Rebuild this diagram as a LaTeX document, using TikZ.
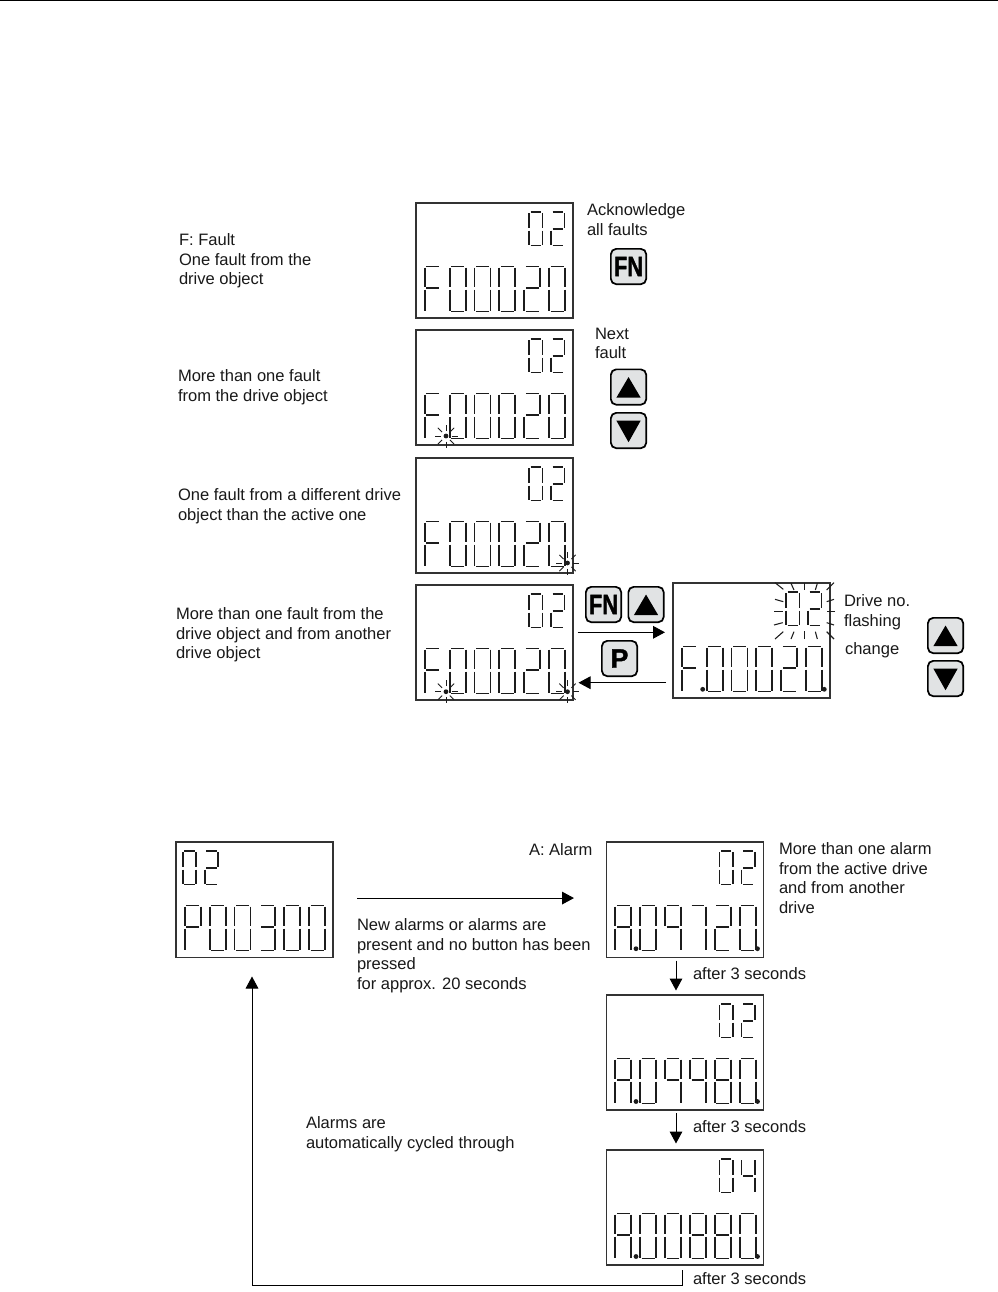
\documentclass[tikz,border=0pt]{standalone}
\usepackage{fontspec}
\setmainfont{Liberation Sans}
\usetikzlibrary{calc,arrows.meta}
\definecolor{lcdink}{HTML}{1C1C1C}
\definecolor{btnfill}{HTML}{E1E3E4}
\tikzset{
  lcdbox/.style={draw=black!80,line width=0.8pt,fill=white,minimum width=117.5pt,minimum height=86.5pt,anchor=north west,inner sep=0pt,outer sep=0pt},
  seg/.style={draw=lcdink,line width=1.45pt,line cap=butt},
  ray/.style={draw=lcdink,line width=0.65pt},
  btn/.style={draw=black,line width=1.3pt,fill=btnfill,rounded corners=4pt,minimum width=26.5pt,minimum height=26.5pt,inner sep=0pt,anchor=north west},
  lbl/.style={anchor=north west,align=left,inner sep=0pt,outer sep=0pt,font=\fontsize{12.4}{14.6}\selectfont,text=black!90},
  arr/.style={draw=black,line width=0.75pt,-{Triangle[length=9pt,width=9.5pt]}},
}
\def\sgA{\draw[seg] (1.6,0)--({\dw-1.6},0);}
\def\sgB{\draw[seg] (\dw,1)--(\dw,{\dm-1.5});}
\def\sgC{\draw[seg] (\dw,{\dm+1.5})--(\dw,{\dh-1});}
\def\sgD{\draw[seg] (1.6,\dh)--({\dw-1.6},\dh);}
\def\sgE{\draw[seg] (0,{\dm+1.5})--(0,{\dh-1});}
\def\sgF{\draw[seg] (0,1)--(0,{\dm-1.5});}
\def\sgG{\draw[seg] (1.6,\dm)--({\dw-1.6},\dm);}
\expandafter\def\csname dig0\endcsname{\sgA\sgB\sgC\sgD\sgE\sgF}
\expandafter\def\csname dig2\endcsname{\sgA\sgB\sgG\sgE\sgD}
\expandafter\def\csname dig3\endcsname{\sgA\sgB\sgG\sgC\sgD}
\expandafter\def\csname dig4\endcsname{\sgF\sgG\sgB\sgC}
\expandafter\def\csname dig7\endcsname{\sgA\sgB\sgC}
\expandafter\def\csname dig8\endcsname{\sgA\sgB\sgC\sgD\sgE\sgF\sgG}
\expandafter\def\csname dig9\endcsname{\sgA\sgB\sgC\sgF\sgG}
\expandafter\def\csname digF\endcsname{\sgA\sgF\sgE\sgG}
\expandafter\def\csname digP\endcsname{\sgA\sgB\sgF\sgE\sgG}
\expandafter\def\csname digA\endcsname{\sgA\sgB\sgC\sgE\sgF\sgG}
% \lcd{name}{x}{y}{w}{h}{small digits}{large digits}
\newcommand\lcd[7]{%
  \node[lcdbox,minimum width={#4*0.75pt},minimum height={#5*0.75pt}] (#1) at (#2,#3) {};
  \begin{scope}[shift={(#2,#3)}]
    \def\dw{13.5}\def\dh{33.5}\def\dm{17}
    \foreach \c [count=\i from 0] in {#6} {
      \ifnum\i=0 \begin{scope}[shift={(\smallx,9)}]\else \begin{scope}[shift={({\smallx+22},9)}]\fi
        \csname dig\c\endcsname
      \end{scope}
    }
    \def\dw{16}\def\dh{45}\def\dm{21.5}
    \foreach \c [count=\i from 0] in {#7} {
      \begin{scope}[shift={({8.7+\i*24.9},63.5)}]
        \csname dig\c\endcsname
      \end{scope}
    }
  \end{scope}
}
\def\smallx{113}
\newcommand\flashdot[2]{%
  \begin{scope}[shift={(#1,#2)}]
    \fill[lcdink] (0,0) circle[radius=1.8pt];
    \foreach \a in {0,45,...,315} \draw[ray] (\a:5.5) -- (\a:11.5);
  \end{scope}
}
\newcommand\dotonly[2]{\fill[lcdink] (#1,#2) circle[radius=1.8pt];}
\newcommand\upbtn[3]{%
  \node[btn] (#1) at (#2,#3) {};
  \fill[black] ($(#1.center)+(0,-10)$) -- ($(#1.center)+(12.2,10.7)$) -- ($(#1.center)+(-12.2,10.7)$) -- cycle;
}
\newcommand\downbtn[3]{%
  \node[btn] (#1) at (#2,#3) {};
  \fill[black] ($(#1.center)+(0,11.7)$) -- ($(#1.center)+(12.2,-10)$) -- ($(#1.center)+(-12.2,-10)$) -- cycle;
}
\newcommand\textbtn[4]{%
  \node[btn,font=\bfseries\fontsize{#4}{#4}\selectfont\addfontfeature{FakeBold=1.5}] (#1) at (#2,#3) {\scalebox{0.78}[1]{FN}};
}
\begin{document}
\begin{tikzpicture}[x=0.75pt,y=-0.75pt]
\useasboundingbox (0,0) rectangle (998,1292);
\fill[white] (0,0) rectangle (998,1292);
\coordinate (tl) at (0,0.8); \coordinate (tr) at (998,0.8);
\draw[black,line width=1pt] (tl) -- (tr);

% Fault displays
\lcd{b1}{416}{203}{157}{115}{0,2}{F,0,0,0,2,0}
\lcd{b2}{416}{330}{157}{115}{0,2}{F,0,0,0,2,0}
\lcd{b3}{416}{458}{157}{115}{0,2}{F,0,0,0,2,0}
\lcd{b4}{416}{585}{157}{115}{0,2}{F,0,0,0,2,0}
\lcd{b5}{673}{583}{157}{115}{0,2}{F,0,0,0,2,0}
\flashdot{446}{436}
\flashdot{567.5}{563}
\flashdot{446}{691.7}
\flashdot{567.5}{691.7}
\dotonly{702.7}{689.3}
\dotonly{824.3}{689.3}

% rays round the flashing drive number
\begin{scope}[shift={(410,570)},x=0.25pt,y=-0.25pt]
  \foreach \xa/\ya/\xb/\yb in {
    1095/38/1120/58, 1143/40/1152/60, 1184/38/1184/60, 1222/40/1216/60, 1272/38/1250/60,
    1095/88/1120/95, 1092/125/1118/125, 1092/165/1118/158,
    1272/88/1250/95, 1275/125/1250/125, 1272/165/1250/158,
    1095/207/1120/185, 1143/207/1152/185, 1184/207/1184/183, 1222/207/1216/185, 1272/207/1250/185}
    \draw[ray,line width=0.8pt] (\xa,\ya) -- (\xb,\yb);
\end{scope}

% Alarm displays
\lcd{a1}{606.5}{842}{157}{115.5}{0,2}{A,0,9,7,2,0}
\lcd{a2}{606.5}{995}{157}{115}{0,2}{A,0,9,9,8,0}
\lcd{a3}{606.5}{1150}{157}{115}{0,4}{A,0,0,8,8,0}
\dotonly{636}{948.7}\dotonly{757.5}{948.7}
\dotonly{636}{1101.5}\dotonly{757.5}{1101.5}
\dotonly{636}{1256.5}\dotonly{757.5}{1256.5}
\def\smallx{6.7}
\lcd{p1}{176}{842}{157}{115.5}{0,2}{P,0,0,3,0,0}

% Buttons
\textbtn{fn1}{610}{248}{21}
\upbtn{up1}{610}{368.5}
\downbtn{dn1}{610}{412}
\textbtn{fn2}{585}{586}{21}
\upbtn{up2}{627.5}{586}
\node[btn,font=\bfseries\fontsize{20}{20}\selectfont\addfontfeature{FakeBold=1.5}] (pb) at (601,640) {P};
\upbtn{up3}{927}{617}
\downbtn{dn3}{927}{660}

% Connectors
\draw[arr] ($(b4.east)+(4.5,-10.2)$) -- ($(b5.west)+(-8,-8.2)$);
\draw[arr] ($(b5.west)+(-7,42.2)$) -- ($(b4.east)+(5.5,40.2)$);
\draw[arr] ($(p1.east)+(24,-1.7)$) -- ($(a1.west)+(-32.5,-1.7)$);
\draw[arr] ($(a1.south)+(-9,3)$) -- ($(a2.north)+(-9,-4.5)$);
\draw[arr] ($(a2.south)+(-9,3)$) -- ($(a3.north)+(-9,-6.5)$);
\draw[arr] ($(a3.south)+(-3,5)$) -- ++(0,15) -| ($(p1.south)+(-2.5,19)$);

% Labels
\node[lbl] (t1) at (587,204) {Acknowledge\\all faults};
\node[lbl] (t2) at (179,234) {F: Fault\\One fault from the\\drive object};
\node[lbl] (t3) at (595,328) {Next\\fault};
\node[lbl] (t4) at (178,370) {More than one fault\\from the drive object};
\node[lbl] (t5) at (178,489) {One fault from a different drive\\object than the active one};
\node[lbl] (t6) at (176,608) {More than one fault from the\\drive object and from another\\drive object};
\node[lbl] (t7) at (844,595) {Drive no.\\flashing};
\node[lbl] (t8) at (845,643) {change};
\node[lbl] (t9) at (529,844) {A: Alarm};
\node[lbl] (t10) at (779,843) {More than one alarm\\from the active drive\\and from another\\drive};
\node[lbl] (t11) at (357,919) {New alarms or alarms are\\present and no button has been\\pressed\\for approx. 20 seconds};
\node[lbl] (t12) at (693,968) {after 3 seconds};
\node[lbl] (t13) at (693,1121) {after 3 seconds};
\node[lbl] (t14) at (693,1273) {after 3 seconds};
\node[lbl] (t15) at (306,1117) {Alarms are\\automatically cycled through};
\end{tikzpicture}
\end{document}
